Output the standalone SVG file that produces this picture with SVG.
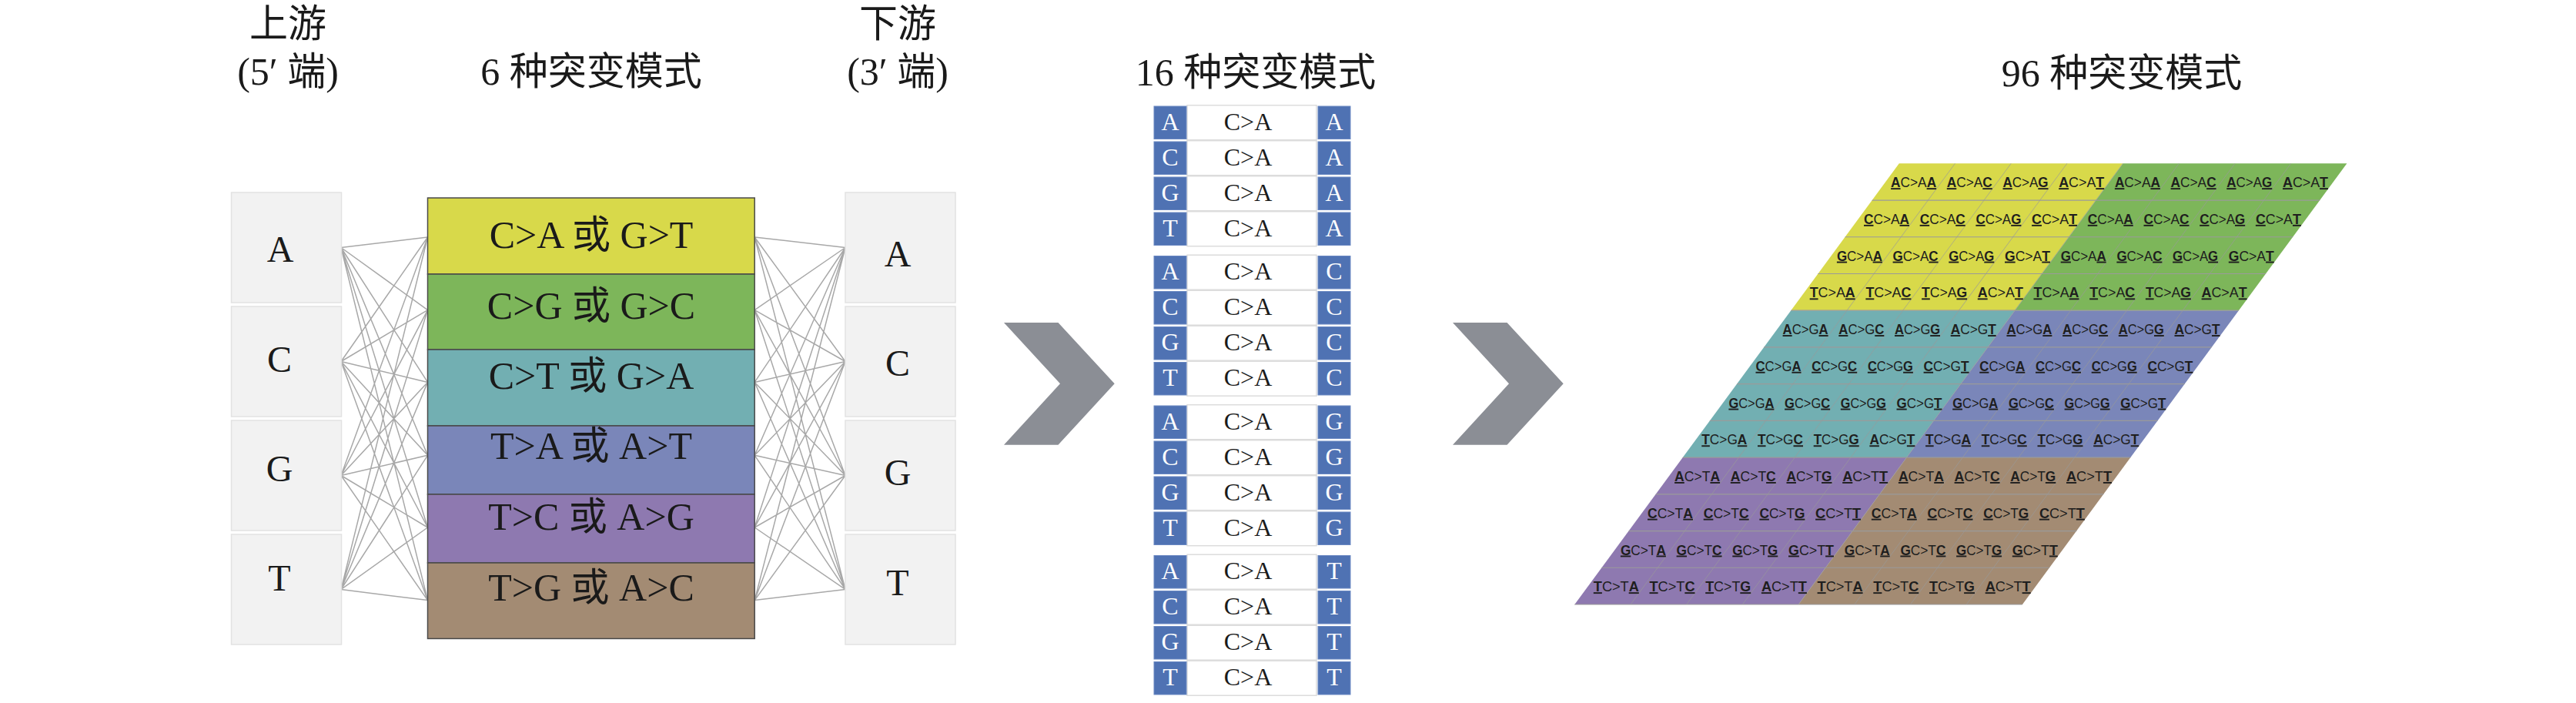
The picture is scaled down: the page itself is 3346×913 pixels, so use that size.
<svg xmlns="http://www.w3.org/2000/svg" width="3346" height="913" viewBox="0 0 3346 913">
<style>
.hd{font-family:"Liberation Serif","Noto Sans CJK SC",serif;font-size:50px;fill:#1a1a1a;text-anchor:middle}
.box{fill:#f2f2f2;stroke:#e2e2e2;stroke-width:1.5}
.bl{font-family:"Liberation Serif",serif;font-size:48px;fill:#1a1a1a;text-anchor:middle}
.mut{font-family:"Liberation Serif","Noto Sans CJK SC",serif;font-size:50px;fill:#1a1a1a;text-anchor:middle}
.row{stroke:#4a4a4a;stroke-width:1.5}
.ln{stroke:#a8a8a8;stroke-width:1.5;fill:none}
.sq{fill:#4f72b3;stroke:#6a88c2;stroke-width:1}
.sqt{font-family:"Liberation Serif",serif;font-size:32px;fill:#ffffff;text-anchor:middle}
.wb{fill:#ffffff;stroke:#dcdcdc;stroke-width:1.5}
.ca{font-family:"Liberation Serif",serif;font-size:32px;fill:#1a1a1a;text-anchor:middle}
.chev{fill:#8b8e95}
.ct{font-family:"Liberation Sans",sans-serif;font-size:19px;fill:#1e1e1e;text-anchor:middle}
.b{font-weight:bold;text-decoration:underline}
.gh{stroke:#9a9a9a;stroke-width:1.2}
.gv{stroke:#9a9a9a;stroke-width:1;stroke-opacity:0.7}
</style>
<rect width="3346" height="913" fill="#ffffff"/>

<g id="headers">
<text class="hd" x="374" y="48">上游</text>
<text class="hd" x="374" y="110">(5′ 端)</text>
<text class="hd" x="768" y="110">6 种突变模式</text>
<text class="hd" x="1166" y="48">下游</text>
<text class="hd" x="1166" y="110">(3′ 端)</text>
<text class="hd" x="1631" y="111">16 种突变模式</text>
<text class="hd" x="2756" y="112">96 种突变模式</text>
</g>

<g id="connectors">
<path class="ln" d="M443 321.5L555.5 308M443 321.5L555.5 402.6M443 321.5L555.5 496.4M443 321.5L555.5 591.3M443 321.5L555.5 685M443 321.5L555.5 779.6
M443 469.5L555.5 308M443 469.5L555.5 402.6M443 469.5L555.5 496.4M443 469.5L555.5 591.3M443 469.5L555.5 685M443 469.5L555.5 779.6
M443 617.5L555.5 308M443 617.5L555.5 402.6M443 617.5L555.5 496.4M443 617.5L555.5 591.3M443 617.5L555.5 685M443 617.5L555.5 779.6
M443 765.5L555.5 308M443 765.5L555.5 402.6M443 765.5L555.5 496.4M443 765.5L555.5 591.3M443 765.5L555.5 685M443 765.5L555.5 779.6"/>
<path class="ln" d="M1098 321.5L980.2 308M1098 321.5L980.2 402.6M1098 321.5L980.2 496.4M1098 321.5L980.2 591.3M1098 321.5L980.2 685M1098 321.5L980.2 779.6
M1098 469.5L980.2 308M1098 469.5L980.2 402.6M1098 469.5L980.2 496.4M1098 469.5L980.2 591.3M1098 469.5L980.2 685M1098 469.5L980.2 779.6
M1098 617.5L980.2 308M1098 617.5L980.2 402.6M1098 617.5L980.2 496.4M1098 617.5L980.2 591.3M1098 617.5L980.2 685M1098 617.5L980.2 779.6
M1098 765.5L980.2 308M1098 765.5L980.2 402.6M1098 765.5L980.2 496.4M1098 765.5L980.2 591.3M1098 765.5L980.2 685M1098 765.5L980.2 779.6"/>
</g>

<g id="up-A"><rect class="box" x="300.5" y="250" width="143" height="143"/><text class="bl" x="364" y="340">A</text></g>
<g id="up-C"><rect class="box" x="300.5" y="398" width="143" height="143"/><text class="bl" x="363" y="483">C</text></g>
<g id="up-G"><rect class="box" x="300.5" y="546" width="143" height="143"/><text class="bl" x="363" y="625">G</text></g>
<g id="up-T"><rect class="box" x="300.5" y="694" width="143" height="143"/><text class="bl" x="363" y="767">T</text></g>

<g id="down-A"><rect class="box" x="1098" y="250" width="143" height="143"/><text class="bl" x="1166" y="346">A</text></g>
<g id="down-C"><rect class="box" x="1098" y="398" width="143" height="143"/><text class="bl" x="1166" y="488">C</text></g>
<g id="down-G"><rect class="box" x="1098" y="546" width="143" height="143"/><text class="bl" x="1166" y="630">G</text></g>
<g id="down-T"><rect class="box" x="1098" y="694" width="143" height="143"/><text class="bl" x="1166" y="773">T</text></g>

<g id="modes6">
<g id="m-CA"><rect class="row" x="555.5" y="257" width="424.7" height="99" fill="#d8d94a"/><text class="mut" x="768" y="322">C&gt;A 或 G&gt;T</text></g>
<g id="m-CG"><rect class="row" x="555.5" y="356" width="424.7" height="98" fill="#7db65a"/><text class="mut" x="768" y="414">C&gt;G 或 G&gt;C</text></g>
<g id="m-CT"><rect class="row" x="555.5" y="454" width="424.7" height="99" fill="#72afb2"/><text class="mut" x="768" y="505">C&gt;T 或 G&gt;A</text></g>
<g id="m-TA"><rect class="row" x="555.5" y="553" width="424.7" height="89" fill="#7a86b9"/><text class="mut" x="768" y="596">T&gt;A 或 A&gt;T</text></g>
<g id="m-TC"><rect class="row" x="555.5" y="642" width="424.7" height="89" fill="#8e79b0"/><text class="mut" x="768" y="688">T&gt;C 或 A&gt;G</text></g>
<g id="m-TG"><rect class="row" x="555.5" y="731" width="424.7" height="98.4" fill="#a38b73"/><text class="mut" x="768" y="780">T&gt;G 或 A&gt;C</text></g>
</g>

<g id="arrow1"><polygon class="chev" points="1304,419 1374.5,419 1447.7,498.3 1374.5,577.7 1304,577.7 1377,498.3"/></g>
<g id="arrow2"><polygon class="chev" points="1887,419 1957.5,419 2030.7,498.3 1957.5,577.7 1887,577.7 1960,498.3"/></g>

<g id="modes16">
<g id="t-A-A"><rect class="wb" x="1542" y="136.7" width="168" height="45"/><rect class="sq" x="1499" y="138" width="42" height="42.5"/><rect class="sq" x="1712" y="138" width="42" height="42.5"/><text class="sqt" x="1520" y="168.5">A</text><text class="ca" x="1621" y="168.5">C&gt;A</text><text class="sqt" x="1733" y="168.5">A</text></g>
<g id="t-C-A"><rect class="wb" x="1542" y="182.7" width="168" height="45"/><rect class="sq" x="1499" y="184" width="42" height="42.5"/><rect class="sq" x="1712" y="184" width="42" height="42.5"/><text class="sqt" x="1520" y="214.5">C</text><text class="ca" x="1621" y="214.5">C&gt;A</text><text class="sqt" x="1733" y="214.5">A</text></g>
<g id="t-G-A"><rect class="wb" x="1542" y="228.7" width="168" height="45"/><rect class="sq" x="1499" y="230" width="42" height="42.5"/><rect class="sq" x="1712" y="230" width="42" height="42.5"/><text class="sqt" x="1520" y="260.5">G</text><text class="ca" x="1621" y="260.5">C&gt;A</text><text class="sqt" x="1733" y="260.5">A</text></g>
<g id="t-T-A"><rect class="wb" x="1542" y="274.7" width="168" height="45"/><rect class="sq" x="1499" y="276" width="42" height="42.5"/><rect class="sq" x="1712" y="276" width="42" height="42.5"/><text class="sqt" x="1520" y="306.5">T</text><text class="ca" x="1621" y="306.5">C&gt;A</text><text class="sqt" x="1733" y="306.5">A</text></g>

<g id="t-A-C"><rect class="wb" x="1542" y="331.2" width="168" height="45"/><rect class="sq" x="1499" y="332.5" width="42" height="42.5"/><rect class="sq" x="1712" y="332.5" width="42" height="42.5"/><text class="sqt" x="1520" y="363">A</text><text class="ca" x="1621" y="363">C&gt;A</text><text class="sqt" x="1733" y="363">C</text></g>
<g id="t-C-C"><rect class="wb" x="1542" y="377.2" width="168" height="45"/><rect class="sq" x="1499" y="378.5" width="42" height="42.5"/><rect class="sq" x="1712" y="378.5" width="42" height="42.5"/><text class="sqt" x="1520" y="409">C</text><text class="ca" x="1621" y="409">C&gt;A</text><text class="sqt" x="1733" y="409">C</text></g>
<g id="t-G-C"><rect class="wb" x="1542" y="423.2" width="168" height="45"/><rect class="sq" x="1499" y="424.5" width="42" height="42.5"/><rect class="sq" x="1712" y="424.5" width="42" height="42.5"/><text class="sqt" x="1520" y="455">G</text><text class="ca" x="1621" y="455">C&gt;A</text><text class="sqt" x="1733" y="455">C</text></g>
<g id="t-T-C"><rect class="wb" x="1542" y="469.2" width="168" height="45"/><rect class="sq" x="1499" y="470.5" width="42" height="42.5"/><rect class="sq" x="1712" y="470.5" width="42" height="42.5"/><text class="sqt" x="1520" y="501">T</text><text class="ca" x="1621" y="501">C&gt;A</text><text class="sqt" x="1733" y="501">C</text></g>

<g id="t-A-G"><rect class="wb" x="1542" y="525.7" width="168" height="45"/><rect class="sq" x="1499" y="527" width="42" height="42.5"/><rect class="sq" x="1712" y="527" width="42" height="42.5"/><text class="sqt" x="1520" y="557.5">A</text><text class="ca" x="1621" y="557.5">C&gt;A</text><text class="sqt" x="1733" y="557.5">G</text></g>
<g id="t-C-G"><rect class="wb" x="1542" y="571.7" width="168" height="45"/><rect class="sq" x="1499" y="573" width="42" height="42.5"/><rect class="sq" x="1712" y="573" width="42" height="42.5"/><text class="sqt" x="1520" y="603.5">C</text><text class="ca" x="1621" y="603.5">C&gt;A</text><text class="sqt" x="1733" y="603.5">G</text></g>
<g id="t-G-G"><rect class="wb" x="1542" y="617.7" width="168" height="45"/><rect class="sq" x="1499" y="619" width="42" height="42.5"/><rect class="sq" x="1712" y="619" width="42" height="42.5"/><text class="sqt" x="1520" y="649.5">G</text><text class="ca" x="1621" y="649.5">C&gt;A</text><text class="sqt" x="1733" y="649.5">G</text></g>
<g id="t-T-G"><rect class="wb" x="1542" y="663.7" width="168" height="45"/><rect class="sq" x="1499" y="665" width="42" height="42.5"/><rect class="sq" x="1712" y="665" width="42" height="42.5"/><text class="sqt" x="1520" y="695.5">T</text><text class="ca" x="1621" y="695.5">C&gt;A</text><text class="sqt" x="1733" y="695.5">G</text></g>

<g id="t-A-T"><rect class="wb" x="1542" y="720.2" width="168" height="45"/><rect class="sq" x="1499" y="721.5" width="42" height="42.5"/><rect class="sq" x="1712" y="721.5" width="42" height="42.5"/><text class="sqt" x="1520" y="752">A</text><text class="ca" x="1621" y="752">C&gt;A</text><text class="sqt" x="1733" y="752">T</text></g>
<g id="t-C-T"><rect class="wb" x="1542" y="766.2" width="168" height="45"/><rect class="sq" x="1499" y="767.5" width="42" height="42.5"/><rect class="sq" x="1712" y="767.5" width="42" height="42.5"/><text class="sqt" x="1520" y="798">C</text><text class="ca" x="1621" y="798">C&gt;A</text><text class="sqt" x="1733" y="798">T</text></g>
<g id="t-G-T"><rect class="wb" x="1542" y="812.2" width="168" height="45"/><rect class="sq" x="1499" y="813.5" width="42" height="42.5"/><rect class="sq" x="1712" y="813.5" width="42" height="42.5"/><text class="sqt" x="1520" y="844">G</text><text class="ca" x="1621" y="844">C&gt;A</text><text class="sqt" x="1733" y="844">T</text></g>
<g id="t-T-T"><rect class="wb" x="1542" y="858.2" width="168" height="45"/><rect class="sq" x="1499" y="859.5" width="42" height="42.5"/><rect class="sq" x="1712" y="859.5" width="42" height="42.5"/><text class="sqt" x="1520" y="890">T</text><text class="ca" x="1621" y="890">C&gt;A</text><text class="sqt" x="1733" y="890">T</text></g>
</g>

<g id="modes96">
<g transform="translate(2466.8,212.3) skewX(-36.35)">
<rect x="0" y="0" width="290.8" height="190.9" fill="#d8d94a"/>
<rect x="290.8" y="0" width="290.8" height="190.9" fill="#7db65a"/>
<rect x="0" y="190.9" width="290.8" height="190.9" fill="#72afb2"/>
<rect x="290.8" y="190.9" width="290.8" height="190.9" fill="#7a86b9"/>
<rect x="0" y="381.8" width="290.8" height="190.9" fill="#8e79b0"/>
<rect x="290.8" y="381.8" width="290.8" height="190.9" fill="#a38b73"/>
<path class="gh" d="M0 47.725H581.6M0 95.45H581.6M0 143.175H581.6M0 190.9H581.6M0 238.625H581.6M0 286.35H581.6M0 334.075H581.6M0 381.8H581.6M0 429.525H581.6M0 477.25H581.6M0 524.975H581.6M0 572.7H581.6"/>
<path class="gv" d="M72.7 0V572.7M145.4 0V572.7M218.1 0V572.7M290.8 0V572.7M363.5 0V572.7M436.2 0V572.7M508.9 0V572.7"/>
</g>
<g class="ct">
<text x="2485.6" y="243.2" textLength="59" lengthAdjust="spacingAndGlyphs"><tspan class="b">A</tspan>C&gt;A<tspan class="b">A</tspan></text>
<text x="2558.3" y="243.2" textLength="59" lengthAdjust="spacingAndGlyphs"><tspan class="b">A</tspan>C&gt;A<tspan class="b">C</tspan></text>
<text x="2631.0" y="243.2" textLength="59" lengthAdjust="spacingAndGlyphs"><tspan class="b">A</tspan>C&gt;A<tspan class="b">G</tspan></text>
<text x="2703.7" y="243.2" textLength="59" lengthAdjust="spacingAndGlyphs"><tspan class="b">A</tspan>C&gt;A<tspan class="b">T</tspan></text>
<text x="2776.4" y="243.2" textLength="59" lengthAdjust="spacingAndGlyphs"><tspan class="b">A</tspan>C&gt;A<tspan class="b">A</tspan></text>
<text x="2849.1" y="243.2" textLength="59" lengthAdjust="spacingAndGlyphs"><tspan class="b">A</tspan>C&gt;A<tspan class="b">C</tspan></text>
<text x="2921.8" y="243.2" textLength="59" lengthAdjust="spacingAndGlyphs"><tspan class="b">A</tspan>C&gt;A<tspan class="b">G</tspan></text>
<text x="2994.5" y="243.2" textLength="59" lengthAdjust="spacingAndGlyphs"><tspan class="b">A</tspan>C&gt;A<tspan class="b">T</tspan></text>

<text x="2450.5" y="290.9" textLength="59" lengthAdjust="spacingAndGlyphs"><tspan class="b">C</tspan>C&gt;A<tspan class="b">A</tspan></text>
<text x="2523.2" y="290.9" textLength="59" lengthAdjust="spacingAndGlyphs"><tspan class="b">C</tspan>C&gt;A<tspan class="b">C</tspan></text>
<text x="2595.9" y="290.9" textLength="59" lengthAdjust="spacingAndGlyphs"><tspan class="b">C</tspan>C&gt;A<tspan class="b">G</tspan></text>
<text x="2668.6" y="290.9" textLength="59" lengthAdjust="spacingAndGlyphs"><tspan class="b">C</tspan>C&gt;A<tspan class="b">T</tspan></text>
<text x="2741.3" y="290.9" textLength="59" lengthAdjust="spacingAndGlyphs"><tspan class="b">C</tspan>C&gt;A<tspan class="b">A</tspan></text>
<text x="2814.0" y="290.9" textLength="59" lengthAdjust="spacingAndGlyphs"><tspan class="b">C</tspan>C&gt;A<tspan class="b">C</tspan></text>
<text x="2886.7" y="290.9" textLength="59" lengthAdjust="spacingAndGlyphs"><tspan class="b">C</tspan>C&gt;A<tspan class="b">G</tspan></text>
<text x="2959.4" y="290.9" textLength="59" lengthAdjust="spacingAndGlyphs"><tspan class="b">C</tspan>C&gt;A<tspan class="b">T</tspan></text>

<text x="2415.4" y="338.6" textLength="59" lengthAdjust="spacingAndGlyphs"><tspan class="b">G</tspan>C&gt;A<tspan class="b">A</tspan></text>
<text x="2488.1" y="338.6" textLength="59" lengthAdjust="spacingAndGlyphs"><tspan class="b">G</tspan>C&gt;A<tspan class="b">C</tspan></text>
<text x="2560.8" y="338.6" textLength="59" lengthAdjust="spacingAndGlyphs"><tspan class="b">G</tspan>C&gt;A<tspan class="b">G</tspan></text>
<text x="2633.5" y="338.6" textLength="59" lengthAdjust="spacingAndGlyphs"><tspan class="b">G</tspan>C&gt;A<tspan class="b">T</tspan></text>
<text x="2706.2" y="338.6" textLength="59" lengthAdjust="spacingAndGlyphs"><tspan class="b">G</tspan>C&gt;A<tspan class="b">A</tspan></text>
<text x="2778.9" y="338.6" textLength="59" lengthAdjust="spacingAndGlyphs"><tspan class="b">G</tspan>C&gt;A<tspan class="b">C</tspan></text>
<text x="2851.6" y="338.6" textLength="59" lengthAdjust="spacingAndGlyphs"><tspan class="b">G</tspan>C&gt;A<tspan class="b">G</tspan></text>
<text x="2924.3" y="338.6" textLength="59" lengthAdjust="spacingAndGlyphs"><tspan class="b">G</tspan>C&gt;A<tspan class="b">T</tspan></text>

<text x="2380.2" y="386.4" textLength="59" lengthAdjust="spacingAndGlyphs"><tspan class="b">T</tspan>C&gt;A<tspan class="b">A</tspan></text>
<text x="2452.9" y="386.4" textLength="59" lengthAdjust="spacingAndGlyphs"><tspan class="b">T</tspan>C&gt;A<tspan class="b">C</tspan></text>
<text x="2525.6" y="386.4" textLength="59" lengthAdjust="spacingAndGlyphs"><tspan class="b">T</tspan>C&gt;A<tspan class="b">G</tspan></text>
<text x="2598.3" y="386.4" textLength="59" lengthAdjust="spacingAndGlyphs"><tspan class="b">A</tspan>C&gt;A<tspan class="b">T</tspan></text>
<text x="2671.0" y="386.4" textLength="59" lengthAdjust="spacingAndGlyphs"><tspan class="b">T</tspan>C&gt;A<tspan class="b">A</tspan></text>
<text x="2743.7" y="386.4" textLength="59" lengthAdjust="spacingAndGlyphs"><tspan class="b">T</tspan>C&gt;A<tspan class="b">C</tspan></text>
<text x="2816.4" y="386.4" textLength="59" lengthAdjust="spacingAndGlyphs"><tspan class="b">T</tspan>C&gt;A<tspan class="b">G</tspan></text>
<text x="2889.1" y="386.4" textLength="59" lengthAdjust="spacingAndGlyphs"><tspan class="b">A</tspan>C&gt;A<tspan class="b">T</tspan></text>

<text x="2345.1" y="434.1" textLength="59" lengthAdjust="spacingAndGlyphs"><tspan class="b">A</tspan>C&gt;G<tspan class="b">A</tspan></text>
<text x="2417.8" y="434.1" textLength="59" lengthAdjust="spacingAndGlyphs"><tspan class="b">A</tspan>C&gt;G<tspan class="b">C</tspan></text>
<text x="2490.5" y="434.1" textLength="59" lengthAdjust="spacingAndGlyphs"><tspan class="b">A</tspan>C&gt;G<tspan class="b">G</tspan></text>
<text x="2563.2" y="434.1" textLength="59" lengthAdjust="spacingAndGlyphs"><tspan class="b">A</tspan>C&gt;G<tspan class="b">T</tspan></text>
<text x="2635.9" y="434.1" textLength="59" lengthAdjust="spacingAndGlyphs"><tspan class="b">A</tspan>C&gt;G<tspan class="b">A</tspan></text>
<text x="2708.6" y="434.1" textLength="59" lengthAdjust="spacingAndGlyphs"><tspan class="b">A</tspan>C&gt;G<tspan class="b">C</tspan></text>
<text x="2781.3" y="434.1" textLength="59" lengthAdjust="spacingAndGlyphs"><tspan class="b">A</tspan>C&gt;G<tspan class="b">G</tspan></text>
<text x="2854.0" y="434.1" textLength="59" lengthAdjust="spacingAndGlyphs"><tspan class="b">A</tspan>C&gt;G<tspan class="b">T</tspan></text>

<text x="2310.0" y="481.8" textLength="59" lengthAdjust="spacingAndGlyphs"><tspan class="b">C</tspan>C&gt;G<tspan class="b">A</tspan></text>
<text x="2382.7" y="481.8" textLength="59" lengthAdjust="spacingAndGlyphs"><tspan class="b">C</tspan>C&gt;G<tspan class="b">C</tspan></text>
<text x="2455.4" y="481.8" textLength="59" lengthAdjust="spacingAndGlyphs"><tspan class="b">C</tspan>C&gt;G<tspan class="b">G</tspan></text>
<text x="2528.1" y="481.8" textLength="59" lengthAdjust="spacingAndGlyphs"><tspan class="b">C</tspan>C&gt;G<tspan class="b">T</tspan></text>
<text x="2600.8" y="481.8" textLength="59" lengthAdjust="spacingAndGlyphs"><tspan class="b">C</tspan>C&gt;G<tspan class="b">A</tspan></text>
<text x="2673.5" y="481.8" textLength="59" lengthAdjust="spacingAndGlyphs"><tspan class="b">C</tspan>C&gt;G<tspan class="b">C</tspan></text>
<text x="2746.2" y="481.8" textLength="59" lengthAdjust="spacingAndGlyphs"><tspan class="b">C</tspan>C&gt;G<tspan class="b">G</tspan></text>
<text x="2818.9" y="481.8" textLength="59" lengthAdjust="spacingAndGlyphs"><tspan class="b">C</tspan>C&gt;G<tspan class="b">T</tspan></text>

<text x="2274.9" y="529.6" textLength="59" lengthAdjust="spacingAndGlyphs"><tspan class="b">G</tspan>C&gt;G<tspan class="b">A</tspan></text>
<text x="2347.6" y="529.6" textLength="59" lengthAdjust="spacingAndGlyphs"><tspan class="b">G</tspan>C&gt;G<tspan class="b">C</tspan></text>
<text x="2420.3" y="529.6" textLength="59" lengthAdjust="spacingAndGlyphs"><tspan class="b">G</tspan>C&gt;G<tspan class="b">G</tspan></text>
<text x="2493.0" y="529.6" textLength="59" lengthAdjust="spacingAndGlyphs"><tspan class="b">G</tspan>C&gt;G<tspan class="b">T</tspan></text>
<text x="2565.7" y="529.6" textLength="59" lengthAdjust="spacingAndGlyphs"><tspan class="b">G</tspan>C&gt;G<tspan class="b">A</tspan></text>
<text x="2638.4" y="529.6" textLength="59" lengthAdjust="spacingAndGlyphs"><tspan class="b">G</tspan>C&gt;G<tspan class="b">C</tspan></text>
<text x="2711.1" y="529.6" textLength="59" lengthAdjust="spacingAndGlyphs"><tspan class="b">G</tspan>C&gt;G<tspan class="b">G</tspan></text>
<text x="2783.8" y="529.6" textLength="59" lengthAdjust="spacingAndGlyphs"><tspan class="b">G</tspan>C&gt;G<tspan class="b">T</tspan></text>

<text x="2239.8" y="577.3" textLength="59" lengthAdjust="spacingAndGlyphs"><tspan class="b">T</tspan>C&gt;G<tspan class="b">A</tspan></text>
<text x="2312.5" y="577.3" textLength="59" lengthAdjust="spacingAndGlyphs"><tspan class="b">T</tspan>C&gt;G<tspan class="b">C</tspan></text>
<text x="2385.2" y="577.3" textLength="59" lengthAdjust="spacingAndGlyphs"><tspan class="b">T</tspan>C&gt;G<tspan class="b">G</tspan></text>
<text x="2457.9" y="577.3" textLength="59" lengthAdjust="spacingAndGlyphs"><tspan class="b">A</tspan>C&gt;G<tspan class="b">T</tspan></text>
<text x="2530.6" y="577.3" textLength="59" lengthAdjust="spacingAndGlyphs"><tspan class="b">T</tspan>C&gt;G<tspan class="b">A</tspan></text>
<text x="2603.3" y="577.3" textLength="59" lengthAdjust="spacingAndGlyphs"><tspan class="b">T</tspan>C&gt;G<tspan class="b">C</tspan></text>
<text x="2676.0" y="577.3" textLength="59" lengthAdjust="spacingAndGlyphs"><tspan class="b">T</tspan>C&gt;G<tspan class="b">G</tspan></text>
<text x="2748.7" y="577.3" textLength="59" lengthAdjust="spacingAndGlyphs"><tspan class="b">A</tspan>C&gt;G<tspan class="b">T</tspan></text>

<text x="2204.6" y="625.0" textLength="59" lengthAdjust="spacingAndGlyphs"><tspan class="b">A</tspan>C&gt;T<tspan class="b">A</tspan></text>
<text x="2277.3" y="625.0" textLength="59" lengthAdjust="spacingAndGlyphs"><tspan class="b">A</tspan>C&gt;T<tspan class="b">C</tspan></text>
<text x="2350.0" y="625.0" textLength="59" lengthAdjust="spacingAndGlyphs"><tspan class="b">A</tspan>C&gt;T<tspan class="b">G</tspan></text>
<text x="2422.7" y="625.0" textLength="59" lengthAdjust="spacingAndGlyphs"><tspan class="b">A</tspan>C&gt;T<tspan class="b">T</tspan></text>
<text x="2495.4" y="625.0" textLength="59" lengthAdjust="spacingAndGlyphs"><tspan class="b">A</tspan>C&gt;T<tspan class="b">A</tspan></text>
<text x="2568.1" y="625.0" textLength="59" lengthAdjust="spacingAndGlyphs"><tspan class="b">A</tspan>C&gt;T<tspan class="b">C</tspan></text>
<text x="2640.8" y="625.0" textLength="59" lengthAdjust="spacingAndGlyphs"><tspan class="b">A</tspan>C&gt;T<tspan class="b">G</tspan></text>
<text x="2713.5" y="625.0" textLength="59" lengthAdjust="spacingAndGlyphs"><tspan class="b">A</tspan>C&gt;T<tspan class="b">T</tspan></text>

<text x="2169.5" y="672.7" textLength="59" lengthAdjust="spacingAndGlyphs"><tspan class="b">C</tspan>C&gt;T<tspan class="b">A</tspan></text>
<text x="2242.2" y="672.7" textLength="59" lengthAdjust="spacingAndGlyphs"><tspan class="b">C</tspan>C&gt;T<tspan class="b">C</tspan></text>
<text x="2314.9" y="672.7" textLength="59" lengthAdjust="spacingAndGlyphs"><tspan class="b">C</tspan>C&gt;T<tspan class="b">G</tspan></text>
<text x="2387.6" y="672.7" textLength="59" lengthAdjust="spacingAndGlyphs"><tspan class="b">C</tspan>C&gt;T<tspan class="b">T</tspan></text>
<text x="2460.3" y="672.7" textLength="59" lengthAdjust="spacingAndGlyphs"><tspan class="b">C</tspan>C&gt;T<tspan class="b">A</tspan></text>
<text x="2533.0" y="672.7" textLength="59" lengthAdjust="spacingAndGlyphs"><tspan class="b">C</tspan>C&gt;T<tspan class="b">C</tspan></text>
<text x="2605.7" y="672.7" textLength="59" lengthAdjust="spacingAndGlyphs"><tspan class="b">C</tspan>C&gt;T<tspan class="b">G</tspan></text>
<text x="2678.4" y="672.7" textLength="59" lengthAdjust="spacingAndGlyphs"><tspan class="b">C</tspan>C&gt;T<tspan class="b">T</tspan></text>

<text x="2134.4" y="720.5" textLength="59" lengthAdjust="spacingAndGlyphs"><tspan class="b">G</tspan>C&gt;T<tspan class="b">A</tspan></text>
<text x="2207.1" y="720.5" textLength="59" lengthAdjust="spacingAndGlyphs"><tspan class="b">G</tspan>C&gt;T<tspan class="b">C</tspan></text>
<text x="2279.8" y="720.5" textLength="59" lengthAdjust="spacingAndGlyphs"><tspan class="b">G</tspan>C&gt;T<tspan class="b">G</tspan></text>
<text x="2352.5" y="720.5" textLength="59" lengthAdjust="spacingAndGlyphs"><tspan class="b">G</tspan>C&gt;T<tspan class="b">T</tspan></text>
<text x="2425.2" y="720.5" textLength="59" lengthAdjust="spacingAndGlyphs"><tspan class="b">G</tspan>C&gt;T<tspan class="b">A</tspan></text>
<text x="2497.9" y="720.5" textLength="59" lengthAdjust="spacingAndGlyphs"><tspan class="b">G</tspan>C&gt;T<tspan class="b">C</tspan></text>
<text x="2570.6" y="720.5" textLength="59" lengthAdjust="spacingAndGlyphs"><tspan class="b">G</tspan>C&gt;T<tspan class="b">G</tspan></text>
<text x="2643.3" y="720.5" textLength="59" lengthAdjust="spacingAndGlyphs"><tspan class="b">G</tspan>C&gt;T<tspan class="b">T</tspan></text>

<text x="2099.3" y="768.2" textLength="59" lengthAdjust="spacingAndGlyphs"><tspan class="b">T</tspan>C&gt;T<tspan class="b">A</tspan></text>
<text x="2172.0" y="768.2" textLength="59" lengthAdjust="spacingAndGlyphs"><tspan class="b">T</tspan>C&gt;T<tspan class="b">C</tspan></text>
<text x="2244.7" y="768.2" textLength="59" lengthAdjust="spacingAndGlyphs"><tspan class="b">T</tspan>C&gt;T<tspan class="b">G</tspan></text>
<text x="2317.4" y="768.2" textLength="59" lengthAdjust="spacingAndGlyphs"><tspan class="b">A</tspan>C&gt;T<tspan class="b">T</tspan></text>
<text x="2390.1" y="768.2" textLength="59" lengthAdjust="spacingAndGlyphs"><tspan class="b">T</tspan>C&gt;T<tspan class="b">A</tspan></text>
<text x="2462.8" y="768.2" textLength="59" lengthAdjust="spacingAndGlyphs"><tspan class="b">T</tspan>C&gt;T<tspan class="b">C</tspan></text>
<text x="2535.5" y="768.2" textLength="59" lengthAdjust="spacingAndGlyphs"><tspan class="b">T</tspan>C&gt;T<tspan class="b">G</tspan></text>
<text x="2608.2" y="768.2" textLength="59" lengthAdjust="spacingAndGlyphs"><tspan class="b">A</tspan>C&gt;T<tspan class="b">T</tspan></text>
</g>
</g>
</svg>
